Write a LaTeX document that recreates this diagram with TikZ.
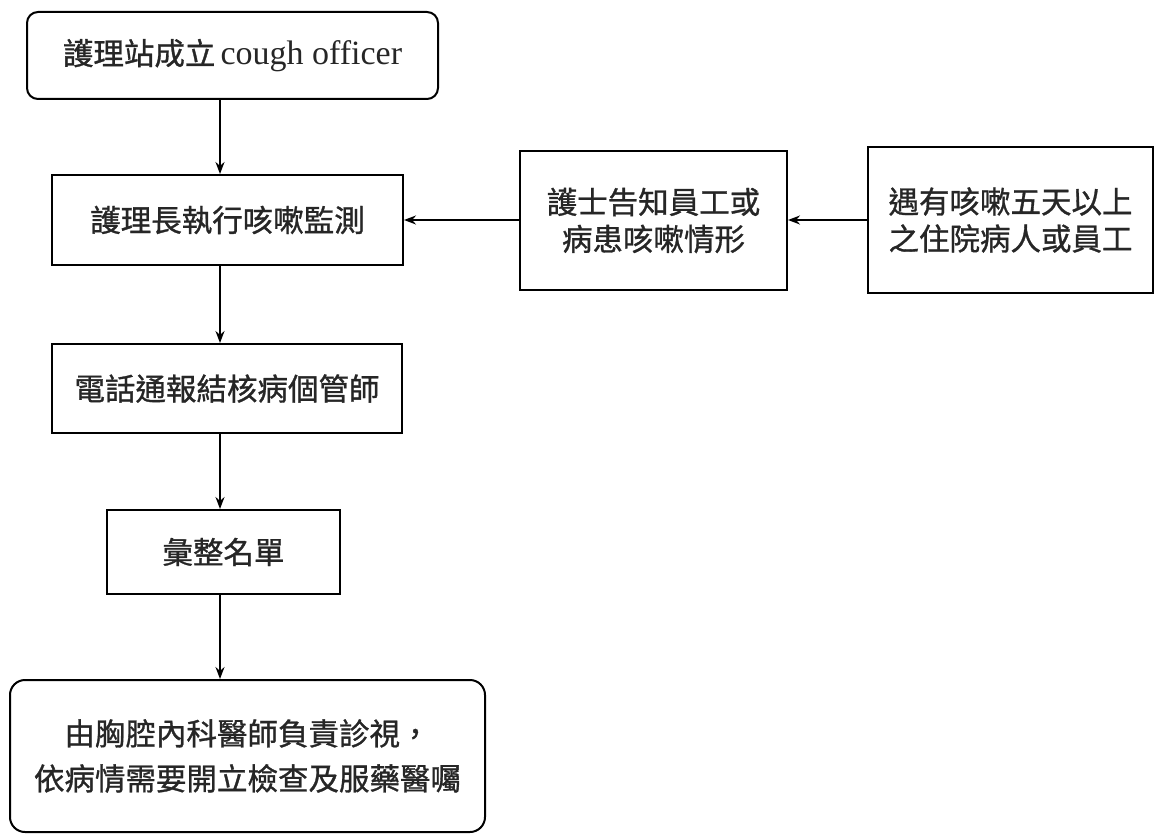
\documentclass[tikz,border=0pt]{standalone}
\usepackage{fontspec}
\setmainfont{Liberation Serif}
\newfontfamily\cjk[FakeBold=1]{Noto Sans CJK TC}
\usetikzlibrary{arrows.meta}
\begin{document}
\begin{tikzpicture}[x=1pt,y=-1pt,
  box/.style={draw, line width=2pt, inner sep=0pt, align=center,
    font=\cjk\fontsize{30.5}{37}\selectfont, text=black!85},
  arr/.style={line width=1.8pt, -{Stealth[length=12pt,width=9pt]}}]
\useasboundingbox (0,0) rectangle (1155,834);
\coordinate (ax) at (220,0);
\node[box, rounded corners=11pt, minimum width=411pt, minimum height=87pt] (b1) at (232.5,55.5)
  {護理站成立\,{\rmfamily\fontsize{34}{37}\selectfont cough officer}};
\node[box, minimum width=351pt, minimum height=90pt] (b2) at (227.5,220) {護理長執行咳嗽監測};
\node[box, minimum width=350pt, minimum height=89pt] (b3) at (227,388.5) {電話通報結核病個管師};
\node[box, minimum width=233pt, minimum height=84pt] (b4) at (223.5,552) {彙整名單};
\node[box, rounded corners=15pt, minimum width=475pt, minimum height=152pt,
  font=\cjk\fontsize{30.5}{45}\selectfont] (b5) at (247.5,756)
  {由胸腔內科醫師負責診視，\\依病情需要開立檢查及服藥醫囑};
\node[box, minimum width=267pt, minimum height=138pt] (b6) at (653.5,220.5) {護士告知員工或\\病患咳嗽情形};
\node[box, minimum width=285pt, minimum height=146pt] (b7) at (1010.5,220) {遇有咳嗽五天以上\\之住院病人或員工};
\draw[arr] (b1.south -| ax) -- (b2.north -| ax);
\draw[arr] (b2.south -| ax) -- (b3.north -| ax);
\draw[arr] (b3.south -| ax) -- (b4.north -| ax);
\draw[arr] (b4.south -| ax) -- (b5.north -| ax);
\draw[arr] (b7.west) -- (b6.east |- b7.west);
\draw[arr] (b6.west |- b2.east) -- (b2.east);
\end{tikzpicture}
\end{document}
